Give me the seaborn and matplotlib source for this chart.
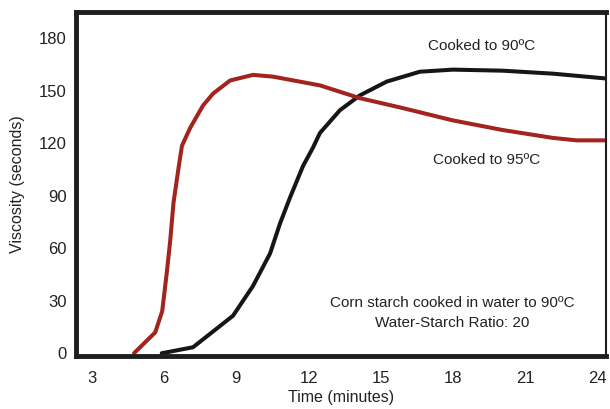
import matplotlib
matplotlib.use("Agg")
import matplotlib.pyplot as plt
import seaborn as sns
import pandas as pd

# Data
time_95 = [4.75, 5.63, 5.92, 6.11, 6.25, 6.39, 6.60, 6.74, 7.08, 7.62, 8.04, 8.74,
           9.69, 10.52, 12.47, 14.13, 15.92, 17.99, 20.06, 22.14, 23.13, 24.38]
visc_95 = [0, 11.9, 24, 46, 64, 86, 106, 118.5, 128.7, 141.6, 148.4, 155.8,
           159, 158, 153, 145.7, 140, 133, 127.5, 123, 121.6, 121.6]

time_90 = [5.9, 6.1, 7.2, 8.86, 9.69, 10.4, 10.81, 11.23, 11.77, 12.18, 12.47, 13.30,
           14.13, 15.25, 16.62, 17.99, 20.06, 22.14, 24.38]
visc_90 = [0, 0.5, 3.4, 21.4, 38.4, 57, 74, 89, 107, 117.4, 125.8, 138.8,
           147.3, 155.2, 160.8, 162, 161.4, 159.7, 156.9]

series_names = ["Cooked to 90ºC", "Cooked to 95ºC"]
x_ticks = [3, 6, 9, 12, 15, 18, 21, 24]
y_ticks = [0, 30, 60, 90, 120, 150, 180]

df = pd.concat([
    pd.DataFrame({"Time": time_90, "Viscosity": visc_90, "Series": series_names[0]}),
    pd.DataFrame({"Time": time_95, "Viscosity": visc_95, "Series": series_names[1]}),
], ignore_index=True)

sns.set_style("white")
plt.rcParams["font.family"] = ["Liberation Sans", "DejaVu Sans"]

fig = plt.figure(figsize=(6.10, 4.09), dpi=100)
ax = fig.add_axes([0.125, 0.130, 0.868, 0.841])

sns.lineplot(data=df, x="Time", y="Viscosity", hue="Series", sort=False,
             palette={series_names[0]: "#161616", series_names[1]: "#a3231f"},
             linewidth=2.9, legend=False, ax=ax, estimator=None)

ax.set_xlim(2.35, 24.34)
ax.set_ylim(-1.5, 195)
ax.set_xticks(x_ticks)
ax.set_yticks(y_ticks)
ax.tick_params(axis="both", length=0, labelsize=12, colors="#222222")
ax.tick_params(axis="x", pad=11)
ax.tick_params(axis="y", pad=7)
ax.set_xlabel("Time (minutes)", fontsize=11.5, color="#222222", labelpad=3)
ax.set_ylabel("Viscosity (seconds)", fontsize=11.5, color="#222222", labelpad=10)

for side in ["left", "bottom", "top", "right"]:
    ax.spines[side].set_visible(True)
    ax.spines[side].set_color("#1e1e1e")
ax.spines["left"].set_linewidth(3.5)
ax.spines["bottom"].set_linewidth(3.5)
ax.spines["top"].set_linewidth(3.5)
ax.spines["right"].set_linewidth(1.5)

txt = dict(fontsize=11, color="#222222", ha="center", va="center")
ax.text(19.2, 175.5, "Cooked to 90ºC", **txt)
ax.text(19.4, 110.6, "Cooked to 95ºC", **txt)
ax.text(17.96, 28.8, "Corn starch cooked in water to 90ºC", **txt)
ax.text(17.96, 17, "Water-Starch Ratio: 20", **txt)

fig.savefig("out.png", dpi=100)
